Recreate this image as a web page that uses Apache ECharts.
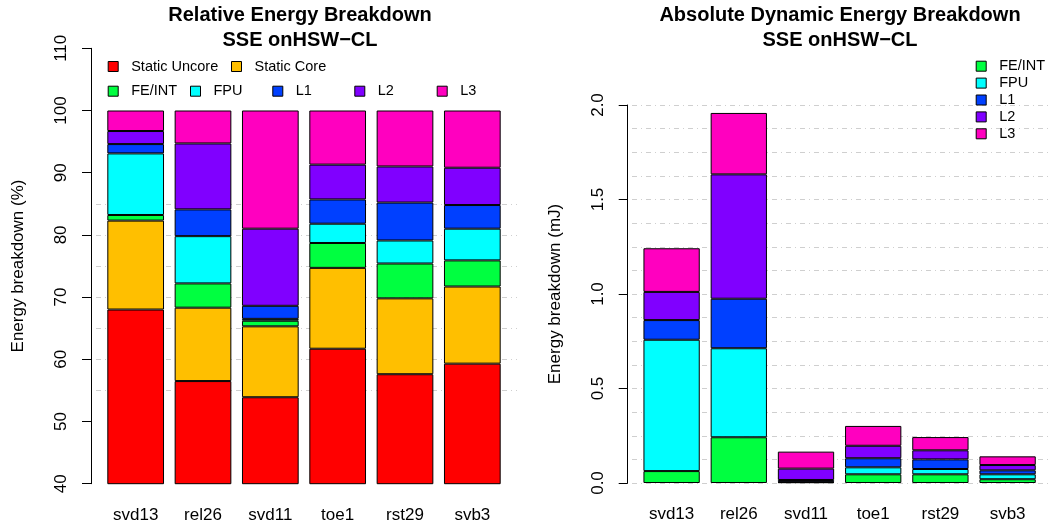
<!DOCTYPE html>
<html>
<head>
<meta charset="utf-8">
<script src="https://cdn.jsdelivr.net/npm/echarts@6/dist/echarts.min.js"></script>
<style>html,body{margin:0;padding:0;background:#fff}#c{width:1049px;height:529px}</style>
</head>
<body>
<div id="c"></div>
<script>
// ---- data ----
const categories = ['svd13', 'rel26', 'svd11', 'toe1', 'rst29', 'svb3'];
// Relative breakdown (%) – segment sizes
const relStaticUncore = [68.0, 56.5, 53.9, 61.7, 57.6, 59.3];
const relStaticCore   = [14.3, 11.8, 11.4, 13.0, 12.2, 12.4];
const relFeInt        = [0.9, 3.9, 0.9, 4.0, 5.6, 4.2];
const relFpu          = [9.9, 7.6, 0.3, 3.1, 3.7, 5.1];
const relL1           = [1.5, 4.3, 2.1, 3.9, 6.1, 3.8];
const relL2           = [2.1, 10.6, 12.4, 5.6, 5.8, 6.0];
const relL3           = [3.3, 5.3, 19.0, 8.7, 9.0, 9.2];
// Absolute dynamic energy (mJ) – segment sizes
const absFeInt = [0.063, 0.242, 0.004, 0.046, 0.046, 0.020];
const absFpu   = [0.695, 0.471, 0.002, 0.037, 0.028, 0.026];
const absL1    = [0.104, 0.262, 0.010, 0.048, 0.051, 0.021];
const absL2    = [0.149, 0.658, 0.060, 0.066, 0.048, 0.028];
const absL3    = [0.231, 0.325, 0.090, 0.105, 0.070, 0.046];
// axis ticks
const relTicks = [40, 50, 60, 70, 80, 90, 100, 110];
const absTicks = ['0.0', '0.5', '1.0', '1.5', '2.0'];
const relGridValues = [55, 60, 65, 70, 75, 80, 85];

const FONT = "'Liberation Sans', Arial, Helvetica, sans-serif";
const AXFS = 17;
const colors = {
  'Static Uncore': '#FF0000', 'Static Core': '#FFBF00', 'FE/INT': '#00FF40',
  'FPU': '#00FFFF', 'L1': '#0040FF', 'L2': '#8000FF', 'L3': '#FF00BF'
};

function barSeries(name, data, axisIdx, stack, bw) {
  return {
    type: 'bar', name: name, data: data, stack: stack,
    xAxisIndex: axisIdx, yAxisIndex: axisIdx, barWidth: bw, clip: true,
    itemStyle: { color: colors[name], borderColor: '#000', borderWidth: 1 },
    emphasis: { disabled: true }, animation: false
  };
}

function legendItem(name, left, cy) {
  return {
    left: left, top: cy - 7, padding: 0, itemWidth: 10, itemHeight: 10,
    icon: 'rect', selectedMode: false,
    data: [{ name: name, itemStyle: { color: colors[name], borderColor: '#000', borderWidth: 1 } }],
    textStyle: { fontFamily: FONT, fontSize: 14.5, color: '#000', lineHeight: 14, padding: [0, 0, 0, 8] }
  };
}

const gridLine = { show: true, lineStyle: { color: '#cfcfcf', width: 1, type: [5, 4, 1, 4] } };

const relMin = relTicks[0], relMax = relTicks[relTicks.length - 1];
const gTop = 48.3, gBottom = 483.7;
const pxPer = (gBottom - gTop) / (relMax - relMin);

function valueAxis(grid, min, max, interval, offset, name, fmt) {
  return {
    type: 'value', gridIndex: grid, min: min, max: max, interval: interval, offset: offset,
    name: name, nameLocation: 'middle', nameGap: 64,
    nameTextStyle: { fontSize: AXFS, color: '#000', fontFamily: FONT },
    axisLine: { show: true, lineStyle: { color: '#000', width: 1 } },
    axisTick: { show: true, length: 9, lineStyle: { color: '#000' } },
    axisLabel: { rotate: 90, fontSize: AXFS, color: '#000', margin: 21, fontFamily: FONT, formatter: fmt },
    splitLine: { show: false }
  };
}

const option = {
  animation: false,
  textStyle: { fontFamily: FONT },
  title: [
    { text: 'Relative Energy Breakdown\nSSE onHSW\u2212CL', left: 300, top: 2.3, padding: 0, textAlign: 'center',
      textStyle: { fontFamily: FONT, fontSize: 20, fontWeight: 'bold', lineHeight: 25.5, color: '#000' } },
    { text: 'Absolute Dynamic Energy Breakdown\nSSE onHSW\u2212CL', left: 840, top: 2.3, padding: 0, textAlign: 'center',
      textStyle: { fontFamily: FONT, fontSize: 20, fontWeight: 'bold', lineHeight: 25.5, color: '#000' } }
  ],
  legend: [
    legendItem('Static Uncore', 107.7, 66),
    legendItem('Static Core', 231, 66),
    legendItem('FE/INT', 107.7, 90.7),
    legendItem('FPU', 190, 90.7),
    legendItem('L1', 272.3, 90.7),
    legendItem('L2', 354.3, 90.7),
    legendItem('L3', 436.7, 90.7),
    legendItem('FE/INT', 975.7, 65.7),
    legendItem('FPU', 975.7, 82.6),
    legendItem('L1', 975.7, 99.5),
    legendItem('L2', 975.7, 116.4),
    legendItem('L3', 975.7, 133.3)
  ],
  grid: [
    { left: 102, width: 404, top: gTop, height: gBottom - gTop },
    { left: 638, width: 403.2, top: 105, height: 378 },
    { left: 96, width: 421, top: gBottom - (relGridValues[relGridValues.length - 1] - relMin) * pxPer,
      height: (relGridValues[relGridValues.length - 1] - relGridValues[0]) * pxPer },
    { left: 632, right: 0, top: 105, height: 378 }
  ],
  xAxis: [
    { type: 'category', gridIndex: 0, data: categories, axisLine: { show: false }, axisTick: { show: false },
      axisLabel: { fontSize: AXFS, color: '#000', margin: 23, fontFamily: FONT }, splitLine: { show: false } },
    { type: 'category', gridIndex: 1, data: categories, axisLine: { show: false }, axisTick: { show: false },
      axisLabel: { fontSize: AXFS, color: '#000', margin: 23, fontFamily: FONT }, splitLine: { show: false } },
    { type: 'value', gridIndex: 2, show: false },
    { type: 'value', gridIndex: 3, show: false }
  ],
  yAxis: [
    valueAxis(0, relMin, relMax, 10, 11, 'Energy breakdown (%)', null),
    valueAxis(1, 0, 2, 0.5, 10.3, 'Energy breakdown (mJ)', function (v) { return absTicks[Math.round(v / 0.5)]; }),
    { type: 'value', gridIndex: 2, min: relGridValues[0], max: relGridValues[relGridValues.length - 1], interval: 5,
      axisLine: { show: false }, axisTick: { show: false }, axisLabel: { show: false }, splitLine: gridLine, z: 0 },
    { type: 'value', gridIndex: 3, min: 0, max: 2, interval: 0.125,
      axisLine: { show: false }, axisTick: { show: false }, axisLabel: { show: false }, splitLine: gridLine, z: 0 }
  ],
  series: [
    barSeries('Static Uncore', relStaticUncore, 0, 'rel', 56.7),
    barSeries('Static Core', relStaticCore, 0, 'rel', 56.7),
    barSeries('FE/INT', relFeInt, 0, 'rel', 56.7),
    barSeries('FPU', relFpu, 0, 'rel', 56.7),
    barSeries('L1', relL1, 0, 'rel', 56.7),
    barSeries('L2', relL2, 0, 'rel', 56.7),
    barSeries('L3', relL3, 0, 'rel', 56.7),
    barSeries('FE/INT', absFeInt, 1, 'abs', 56.3),
    barSeries('FPU', absFpu, 1, 'abs', 56.3),
    barSeries('L1', absL1, 1, 'abs', 56.3),
    barSeries('L2', absL2, 1, 'abs', 56.3),
    barSeries('L3', absL3, 1, 'abs', 56.3)
  ]
};
const chart = echarts.init(document.getElementById('c'), null, { renderer: 'canvas' });
chart.setOption(option);
</script>
</body>
</html>
